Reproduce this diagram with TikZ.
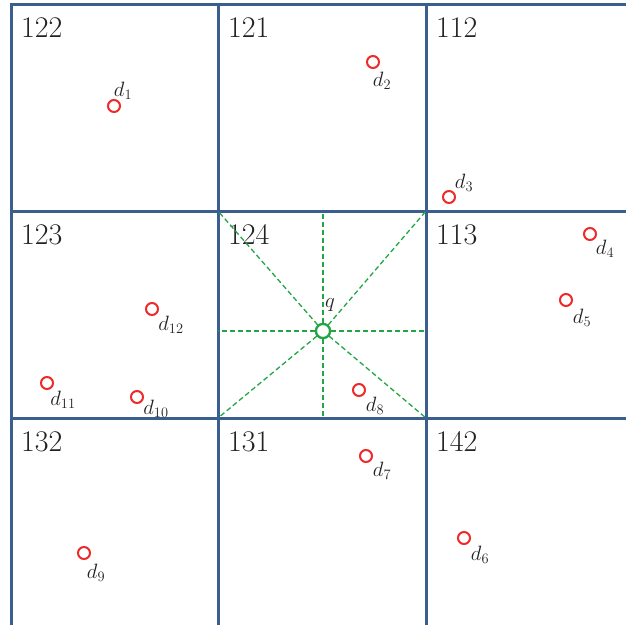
\documentclass[tikz,border=0pt]{standalone}
\usepackage{tikz}
\usepackage{xcolor}
\usetikzlibrary{arrows.meta,positioning}
\definecolor{GridBlue}{HTML}{3A5F8F}
\definecolor{PtRed}{HTML}{EE2A2A}
\definecolor{QGreen}{HTML}{22A645}
\definecolor{TextBlack}{HTML}{222222}

\begin{document}
\begin{tikzpicture}[x=1pt, y=-1pt,
    gridline/.style={line width=3pt, GridBlue},
    sector/.style={dashed, dash pattern=on 5pt off 3pt, line width=1.3pt, QGreen},
    datapt/.style={circle, draw=PtRed, line width=2pt, minimum size=12pt, inner sep=0pt},
    querypt/.style={circle, draw=QGreen, fill=white, line width=2.2pt, minimum size=14pt, inner sep=0pt},
    celllabel/.style={anchor=base west, font=\fontsize{30}{32}\selectfont, TextBlack, inner sep=0pt},
    ptlabel/.style={font=\fontsize{21}{23}\selectfont, TextBlack, inner sep=0pt}]
    \useasboundingbox (0,0) rectangle (626,625);

    % Grid
    \draw[gridline] (11,625) -- (11,4) -- (626,4);
    \draw[gridline] (218,4) -- (218,625);
    \draw[gridline] (426,4) -- (426,625);
    \draw[gridline] (11,211) -- (626,211);
    \draw[gridline] (11,418) -- (626,418);

    % Cell numbers
    \node[celllabel] (c122) at (21,37) {122};
    \node[celllabel] (c121) at (228,37) {121};
    \node[celllabel] (c112) at (436,37) {112};
    \node[celllabel] (c123) at (21,244) {123};
    \node[celllabel] (c124) at (228,244) {124};
    \node[celllabel] (c113) at (436,244) {113};
    \node[celllabel] (c132) at (21,451) {132};
    \node[celllabel] (c131) at (228,451) {131};
    \node[celllabel] (c142) at (436,451) {142};

    % Sector lines around the query cell
    \coordinate (nw) at (218,211);
    \coordinate (n) at (323,211);
    \coordinate (ne) at (426,211);
    \coordinate (e) at (426,331);
    \coordinate (se) at (426,418);
    \coordinate (s) at (323,418);
    \coordinate (sw) at (218,418);
    \coordinate (w) at (218,331);
    \node[querypt] (q) at (323,331) {};
    \draw[sector] (q) -- (nw);
    \draw[sector] (q) -- (n);
    \draw[sector] (q) -- (ne);
    \draw[sector] (q) -- (e);
    \draw[sector] (q) -- (se);
    \draw[sector] (q) -- (s);
    \draw[sector] (q) -- (sw);
    \draw[sector] (q) -- (w);
    \node[querypt] at (q) {};
    \node[ptlabel] (qlbl) at (330,305) {$q$};

    % Data points
    \node[datapt] (d1) at (114,106) {};
    \node[ptlabel] (l1) at (123,91) {$d_1$};
    \node[datapt] (d2) at (373,62) {};
    \node[ptlabel] (l2) at (382,81) {$d_2$};
    \node[datapt] (d3) at (449,197) {};
    \node[ptlabel] (l3) at (464,183) {$d_3$};
    \node[datapt] (d4) at (590,234) {};
    \node[ptlabel] (l4) at (605,249) {$d_4$};
    \node[datapt] (d5) at (566,300) {};
    \node[ptlabel] (l5) at (582,318) {$d_5$};
    \node[datapt] (d6) at (464,538) {};
    \node[ptlabel] (l6) at (480,555) {$d_6$};
    \node[datapt] (d7) at (366,456) {};
    \node[ptlabel] (l7) at (382,471) {$d_7$};
    \node[datapt] (d8) at (359,390) {};
    \node[ptlabel] (l8) at (375,406) {$d_8$};
    \node[datapt] (d9) at (84,553) {};
    \node[ptlabel] (l9) at (96,573) {$d_9$};
    \node[datapt] (d10) at (137,397) {};
    \node[ptlabel] (l10) at (156,409) {$d_{10}$};
    \node[datapt] (d11) at (47,383) {};
    \node[ptlabel] (l11) at (63,400) {$d_{11}$};
    \node[datapt] (d12) at (152,309) {};
    \node[ptlabel] (l12) at (171,325) {$d_{12}$};

\end{tikzpicture}
\end{document}
